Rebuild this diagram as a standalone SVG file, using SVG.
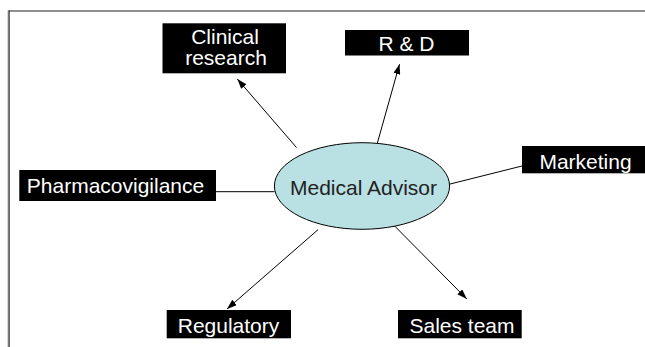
<svg xmlns="http://www.w3.org/2000/svg" width="645" height="347" viewBox="0 0 645 347">
  <style>
    .box { fill: #000000; }
    .label { fill: #ffffff; font-family: "Liberation Sans", Arial, sans-serif; font-size: 21px; text-anchor: middle; }
    .center-label { fill: #222222; font-family: "Liberation Sans", Arial, sans-serif; font-size: 21px; text-anchor: middle; }
    .link { stroke: #000000; stroke-width: 1; fill: none; }
  </style>
  <defs>
    <marker id="arrow" viewBox="0 0 10 7" refX="10" refY="3.5" markerWidth="10" markerHeight="7" markerUnits="userSpaceOnUse" orient="auto">
      <path d="M0,0 L10,3.5 L0,7 Z" fill="#000000"/>
    </marker>
  </defs>

  <rect width="645" height="347" fill="#ffffff"/>

  <!-- slide frame -->
  <g id="frame">
    <line x1="8.5" y1="11" x2="645" y2="11" stroke="#6a6a6a" stroke-width="1.6"/>
    <line x1="9" y1="10.5" x2="9" y2="347" stroke="#262626" stroke-width="1.4"/>
    <line x1="8" y1="10.5" x2="8" y2="347" stroke="#9a9a9a" stroke-width="0.8"/>
  </g>

  <!-- connectors -->
  <g id="connectors">
    <line class="link" x1="296.5" y1="147.5" x2="237.3" y2="79" marker-end="url(#arrow)"/>
    <line class="link" x1="377.3" y1="143.3" x2="399.5" y2="64.2" marker-end="url(#arrow)"/>
    <line class="link" x1="449" y1="184.3" x2="522" y2="166"/>
    <line class="link" x1="216" y1="191.7" x2="274.5" y2="191.7"/>
    <line class="link" x1="318" y1="229.7" x2="227" y2="309" marker-end="url(#arrow)"/>
    <line class="link" x1="392.7" y1="224" x2="466.8" y2="299" marker-end="url(#arrow)"/>
  </g>

  <g id="medical-advisor">
    <ellipse cx="362" cy="186" rx="87.6" ry="43.3" fill="#b9e0e3" stroke="#000000" stroke-width="1"/>
    <text class="center-label" x="363.5" y="195">Medical Advisor</text>
  </g>

  <g id="clinical-research">
    <rect class="box" x="162.5" y="23.3" width="123.5" height="50"/>
    <text class="label" x="225" y="44">Clinical</text>
    <text class="label" x="226" y="65">research</text>
  </g>

  <g id="r-and-d">
    <rect class="box" x="345" y="30" width="124" height="25.5"/>
    <text class="label" x="406.5" y="51">R &amp; D</text>
  </g>

  <g id="marketing">
    <rect class="box" x="522" y="146" width="123" height="27.3"/>
    <text class="label" x="585.5" y="168.5">Marketing</text>
  </g>

  <g id="pharmacovigilance">
    <rect class="box" x="19.3" y="170" width="196.7" height="31"/>
    <text class="label" x="115.5" y="193.3">Pharmacovigilance</text>
  </g>

  <g id="regulatory">
    <rect class="box" x="166.7" y="310" width="124.3" height="28.3"/>
    <text class="label" x="228.5" y="333">Regulatory</text>
  </g>

  <g id="sales-team">
    <rect class="box" x="398" y="310" width="123.7" height="28.3"/>
    <text class="label" x="462" y="333">Sales team</text>
  </g>
</svg>
